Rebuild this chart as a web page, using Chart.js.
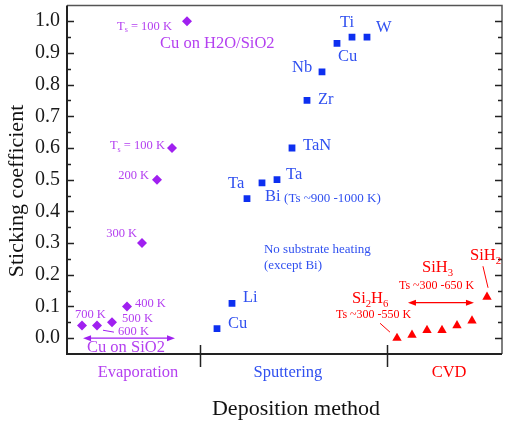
<!DOCTYPE html>
<html>
<head>
<meta charset="utf-8">
<script src="https://cdn.jsdelivr.net/npm/chart.js@4.4.1/dist/chart.umd.min.js"></script>
<style>
  html, body { margin: 0; padding: 0; background: #fff; }
  #wrap { width: 510px; height: 421px; }
</style>
</head>
<body>
<div id="wrap"><canvas id="chart"></canvas></div>
<script>
// categories along the x axis, and where they sit on the 0..29 x scale
const categories = ['Evaporation', 'Sputtering', 'CVD'];
const categoryPos = [4.73, 14.73, 25.47];
const separators = [8.87, 21.33];

// Evaporation (Cu on SiO2 / H2O-SiO2), 700 K .. 100 K
const evapX = [1, 2, 3, 4, 5, 6, 7, 8];
const evapY = [0.04, 0.04, 0.05, 0.10, 0.30, 0.50, 0.60, 1.00];

// Sputtering: Cu, Li, Bi, Ta, Ta, TaN, Zr, Nb, Cu, Ti, W
const sputX = [10, 11, 12, 13, 14, 15, 16, 17, 18, 19, 20];
const sputY = [0.03, 0.11, 0.44, 0.49, 0.50, 0.60, 0.75, 0.84, 0.93, 0.95, 0.95];

// CVD: Si2H6 ... SiH3 ... SiH2
const cvdX = [22, 23, 24, 25, 26, 27, 28];
const cvdY = [0.0, 0.01, 0.025, 0.025, 0.04, 0.055, 0.13];

const yTicks = [0, 0.1, 0.2, 0.3, 0.4, 0.5, 0.6, 0.7, 0.8, 0.9, 1.0];

const purple = '#a020f0', purpleText = '#b440f0';
const blue = '#0d2ff0', blueText = '#3050f0';
const red = '#ff0000';
const catColors = [purpleText, blueText, red];
const serif = "'Liberation Serif', 'DejaVu Serif', serif";

const pts = (xs, ys) => xs.map((x, i) => ({ x: x, y: ys[i] }));

// text notes, placed in data units
const notes = [
    { x: 7.0, y: 0.984, t: [['T'], ['s', 1], [' = 100 K']], size: 12.5, c: purpleText, a: 'right' },
    { x: 6.2, y: 0.928, t: [['Cu on H2O/SiO2']], size: 16.5, c: purpleText },
    { x: 6.53, y: 0.607, t: [['T'], ['s', 1], [' = 100 K']], size: 12.5, c: purpleText, a: 'right' },
    { x: 5.47, y: 0.514, t: [['200 K']], size: 12.5, c: purpleText, a: 'right' },
    { x: 4.67, y: 0.330, t: [['300 K']], size: 12.5, c: purpleText, a: 'right' },
    { x: 4.53, y: 0.109, t: [['400 K']], size: 12.5, c: purpleText },
    { x: 0.53, y: 0.075, t: [['700 K']], size: 12.5, c: purpleText },
    { x: 3.67, y: 0.062, t: [['500 K']], size: 12.5, c: purpleText },
    { x: 3.4, y: 0.019, t: [['600 K']], size: 12.5, c: purpleText },
    { x: 1.33, y: -0.03, t: [['Cu on SiO2']], size: 16.5, c: purpleText },

    { x: 18.2, y: 0.997, t: [['Ti']], size: 16.5, c: blueText },
    { x: 20.6, y: 0.981, t: [['W']], size: 16.5, c: blueText },
    { x: 18.07, y: 0.888, t: [['Cu']], size: 16.5, c: blueText },
    { x: 15.0, y: 0.854, t: [['Nb']], size: 16.5, c: blueText },
    { x: 16.73, y: 0.751, t: [['Zr']], size: 16.5, c: blueText },
    { x: 15.73, y: 0.607, t: [['TaN']], size: 16.5, c: blueText },
    { x: 14.6, y: 0.517, t: [['Ta']], size: 16.5, c: blueText },
    { x: 10.73, y: 0.486, t: [['Ta']], size: 16.5, c: blueText },
    { x: 13.2, y: 0.445, t: [['Bi']], size: 16.5, c: blueText },
    { x: 14.47, y: 0.442, t: [['(Ts ~900 -1000 K)']], size: 13, c: blueText },
    { x: 13.13, y: 0.280, t: [['No substrate heating']], size: 13, c: blueText },
    { x: 13.13, y: 0.230, t: [['(except Bi)']], size: 13, c: blueText },
    { x: 11.73, y: 0.128, t: [['Li']], size: 16.5, c: blueText },
    { x: 10.73, y: 0.047, t: [['Cu']], size: 16.5, c: blueText },

    { x: 26.87, y: 0.259, t: [['SiH'], ['2', 1]], size: 16.5, c: red },
    { x: 23.67, y: 0.221, t: [['SiH'], ['3', 1]], size: 16.5, c: red },
    { x: 22.13, y: 0.165, t: [['Ts ~300 -650 K']], size: 12, c: red },
    { x: 19.0, y: 0.125, t: [['Si'], ['2', 1], ['H'], ['6', 1]], size: 16.5, c: red },
    { x: 17.93, y: 0.072, t: [['Ts ~300 -550 K']], size: 12, c: red }
];

const leaders = [
    { x1: 2.4, y1: 0.025, x2: 3.13, y2: 0.019, c: purple },
    { x1: 27.73, y1: 0.227, x2: 28.07, y2: 0.159, c: red },
    { x1: 20.87, y1: 0.047, x2: 21.53, y2: 0.019, c: red }
];

const arrows = [
    { x1: 1.07, x2: 7.2, y: 0.0, c: purple },
    { x1: 22.73, x2: 27.13, y: 0.112, c: red }
];

function drawRich(ctx, segs, x, y, size, color, align) {
    const sub = size * 0.65;
    let w = 0;
    segs.forEach(s => {
        ctx.font = (s[1] ? sub : size) + 'px ' + serif;
        w += ctx.measureText(s[0]).width;
    });
    let cx = align === 'right' ? x - w : x;
    ctx.fillStyle = color;
    ctx.textAlign = 'left';
    ctx.textBaseline = 'middle';
    segs.forEach(s => {
        ctx.font = (s[1] ? sub : size) + 'px ' + serif;
        ctx.fillText(s[0], cx, s[1] ? y + size * 0.32 : y);
        cx += ctx.measureText(s[0]).width;
    });
}

const decor = {
    id: 'decor',
    afterDraw(chart) {
        const ctx = chart.ctx;
        const { left, right, top, bottom } = chart.chartArea;
        const xs = chart.scales.x, ys = chart.scales.y;
        ctx.save();

        // frame: heavier left/bottom, lighter top/right
        ctx.strokeStyle = '#555';
        ctx.lineWidth = 1.5;
        ctx.beginPath();
        ctx.moveTo(left, top); ctx.lineTo(right, top); ctx.lineTo(right, bottom);
        ctx.stroke();
        ctx.strokeStyle = '#222';
        ctx.lineWidth = 2;
        ctx.beginPath();
        ctx.moveTo(left, top); ctx.lineTo(left, bottom); ctx.lineTo(right, bottom);
        ctx.stroke();

        // inner y ticks, both sides
        ctx.lineWidth = 1.5;
        ys.ticks.forEach(t => {
            const major = yTicks.some(v => Math.abs(v - t.value) < 1e-6);
            const len = major ? 7 : 4;
            const py = Math.round(ys.getPixelForValue(t.value)) + 0.5;
            ctx.beginPath();
            ctx.moveTo(left, py); ctx.lineTo(left + len, py);
            ctx.moveTo(right, py); ctx.lineTo(right - len, py);
            ctx.stroke();
        });

        // category separators
        separators.forEach(s => {
            const px = Math.round(xs.getPixelForValue(s)) + 0.5;
            ctx.beginPath();
            ctx.moveTo(px, bottom - 9); ctx.lineTo(px, bottom + 13);
            ctx.stroke();
        });

        // axis titles
        ctx.fillStyle = '#111';
        ctx.font = '22px ' + serif;
        ctx.textAlign = 'center';
        ctx.textBaseline = 'middle';
        ctx.fillText('Deposition method', 296, 409);
        ctx.translate(17, 191);
        ctx.rotate(-Math.PI / 2);
        ctx.fillText('Sticking coefficient', 0, 0);
        ctx.setTransform(1, 0, 0, 1, 0, 0);

        // leader lines
        ctx.lineWidth = 1;
        leaders.forEach(l => {
            ctx.strokeStyle = l.c;
            ctx.beginPath();
            ctx.moveTo(xs.getPixelForValue(l.x1), ys.getPixelForValue(l.y1));
            ctx.lineTo(xs.getPixelForValue(l.x2), ys.getPixelForValue(l.y2));
            ctx.stroke();
        });

        // double-headed arrows
        arrows.forEach(a => {
            const x1 = xs.getPixelForValue(a.x1), x2 = xs.getPixelForValue(a.x2);
            const py = ys.getPixelForValue(a.y);
            ctx.strokeStyle = a.c;
            ctx.fillStyle = a.c;
            ctx.lineWidth = 1.2;
            ctx.beginPath();
            ctx.moveTo(x1 + 4, py); ctx.lineTo(x2 - 4, py);
            ctx.stroke();
            ctx.beginPath();
            ctx.moveTo(x1, py); ctx.lineTo(x1 + 8, py - 3); ctx.lineTo(x1 + 8, py + 3); ctx.closePath();
            ctx.moveTo(x2, py); ctx.lineTo(x2 - 8, py - 3); ctx.lineTo(x2 - 8, py + 3); ctx.closePath();
            ctx.fill();
        });

        notes.forEach(n => {
            drawRich(ctx, n.t, xs.getPixelForValue(n.x), ys.getPixelForValue(n.y), n.size, n.c, n.a);
        });
        ctx.restore();
    }
};

const ctx = document.getElementById('chart');

new Chart(ctx, {
    type: 'scatter',
    data: {
        datasets: [
            {
                label: 'Evaporation',
                data: pts(evapX, evapY),
                pointStyle: 'rectRot',
                pointRadius: 5,
                backgroundColor: purple,
                borderColor: purple,
                borderWidth: 0
            },
            {
                label: 'Sputtering',
                data: pts(sputX, sputY),
                pointStyle: 'rect',
                pointRadius: 4.8,
                backgroundColor: blue,
                borderColor: blue,
                borderWidth: 0
            },
            {
                label: 'CVD',
                data: pts(cvdX, cvdY),
                pointStyle: 'triangle',
                pointRadius: 5.4,
                backgroundColor: red,
                borderColor: red,
                borderWidth: 0
            }
        ]
    },
    options: {
        responsive: true,
        maintainAspectRatio: false,
        animation: false,
        devicePixelRatio: 1,
        layout: { padding: { left: 0, right: 8, top: 1, bottom: 0 } },
        plugins: {
            legend: { display: false },
            tooltip: { enabled: false }
        },
        scales: {
            x: {
                type: 'linear',
                min: 0,
                max: 29,
                afterBuildTicks: s => { s.ticks = categoryPos.map(v => ({ value: v })); },
                afterFit: s => { s.height = 67; s.paddingLeft = 0; s.paddingRight = 0; },
                ticks: {
                    autoSkip: false,
                    maxRotation: 0,
                    padding: 9,
                    callback: (v, i) => categories[i],
                    color: c => catColors[c.index],
                    font: { family: serif, size: 16.5 }
                },
                grid: { display: false, drawTicks: false },
                border: { display: false }
            },
            y: {
                min: -0.05,
                max: 1.05,
                afterBuildTicks: s => {
                    const t = [];
                    yTicks.forEach((v, i) => {
                        t.push({ value: v });
                        if (i < yTicks.length - 1) t.push({ value: (v + yTicks[i + 1]) / 2 });
                    });
                    s.ticks = t;
                },
                afterFit: s => { s.width = 67; s.paddingTop = 0; s.paddingBottom = 0; },
                ticks: {
                    autoSkip: false,
                    padding: 7,
                    color: '#1a1a1a',
                    font: { family: serif, size: 20 },
                    callback: v => yTicks.some(t => Math.abs(t - v) < 1e-6) ? v.toFixed(1) : ''
                },
                grid: { display: false, drawTicks: false },
                border: { display: false }
            }
        }
    },
    plugins: [decor]
});
</script>
</body>
</html>
